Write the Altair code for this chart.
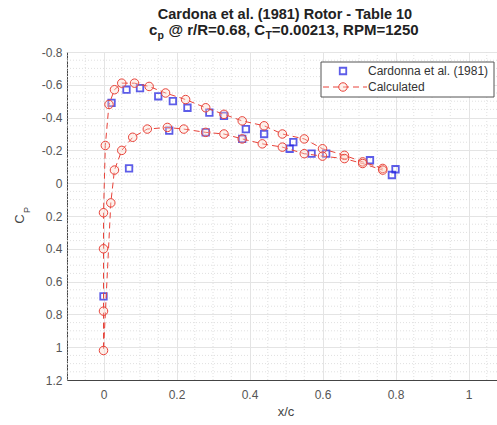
import altair as alt
import pandas as pd

# ---- data ----
exp_x = [0.0, 0.022, 0.063, 0.10, 0.15, 0.19, 0.23, 0.29, 0.33, 0.39, 0.44, 0.52, 0.57,
         0.73, 0.80, 0.79, 0.07, 0.18, 0.28, 0.38, 0.51, 0.61]
exp_cp = [0.69, -0.49, -0.57, -0.58, -0.53, -0.50, -0.46, -0.43, -0.41, -0.33, -0.30, -0.25,
          -0.18, -0.14, -0.085, -0.05, -0.09, -0.32, -0.31, -0.27, -0.21, -0.18]

calc_x = [0.765, 0.71, 0.66, 0.60, 0.55, 0.49, 0.44, 0.38, 0.33, 0.28,
          0.225, 0.17, 0.125, 0.085, 0.05, 0.03, 0.015, 0.005, 0.0, 0.0,
          0.0, 0.0, 0.02, 0.03, 0.05, 0.08, 0.12, 0.175, 0.22, 0.28,
          0.33, 0.38, 0.435, 0.49, 0.55, 0.60, 0.66, 0.71, 0.765]
calc_cp = [-0.09, -0.13, -0.17, -0.21, -0.27, -0.30, -0.35, -0.38, -0.42, -0.46,
           -0.51, -0.55, -0.59, -0.61, -0.61, -0.57, -0.48, -0.23, 0.18, 0.40,
           0.78, 1.02, 0.12, -0.08, -0.20, -0.28, -0.33, -0.34, -0.33, -0.31,
           -0.30, -0.27, -0.24, -0.22, -0.18, -0.165, -0.15, -0.12, -0.08]

x_ticks = [0, 0.2, 0.4, 0.6, 0.8, 1.0]
y_ticks = [-0.8, -0.6, -0.4, -0.2, 0, 0.2, 0.4, 0.6, 0.8, 1.0, 1.2]
x_minor = [-0.1, -0.05, 0.05, 0.1, 0.15, 0.25, 0.3, 0.35, 0.45, 0.5, 0.55, 0.65, 0.7, 0.75,
           0.85, 0.9, 0.95, 1.05]
y_minor = [-0.75, -0.7, -0.65, -0.55, -0.5, -0.45, -0.35, -0.3, -0.25, -0.15, -0.1, -0.05,
           0.05, 0.1, 0.15, 0.25, 0.3, 0.35, 0.45, 0.5, 0.55, 0.65, 0.7, 0.75,
           0.85, 0.9, 0.95, 1.05, 1.1, 1.15]

W, H = 430, 328
FONT = "Liberation Sans"

exp_df = pd.DataFrame({"x": exp_x, "cp": exp_cp})
calc_df = pd.DataFrame({"x": calc_x, "cp": calc_cp, "i": list(range(len(calc_x)))})

xs = alt.Scale(domain=[-0.1, 1.078], nice=False, zero=False)
ys = alt.Scale(domain=[-0.8, 1.2], nice=False, zero=False, reverse=True)

lab = "replace(format(datum.value, '.1~f'), '\u2212', '-')"

xaxis = alt.Axis(values=x_ticks, labelExpr=lab, title=None, grid=True, gridColor="#e4e4e4",
                 ticks=False, labelPadding=9, domainColor="#444", labelColor="#555",
                 labelFontSize=12, labelFont=FONT)
yaxis = alt.Axis(values=y_ticks, labelExpr=lab, title=None, grid=True, gridColor="#e4e4e4",
                 ticks=False, labelPadding=5, domainColor="#444", labelColor="#555",
                 labelFontSize=12, labelFont=FONT)


def X(f):
    return alt.X(f, scale=xs, axis=xaxis)


def Y(f):
    return alt.Y(f, scale=ys, axis=yaxis)


xminor = alt.Chart(pd.DataFrame({"v": x_minor})).mark_rule(
    color="#e0e0e0", strokeDash=[1, 2], strokeWidth=1).encode(x=X("v:Q"))
yminor = alt.Chart(pd.DataFrame({"v": y_minor})).mark_rule(
    color="#e0e0e0", strokeDash=[1, 2], strokeWidth=1).encode(y=Y("v:Q"))

exp_pts = alt.Chart(exp_df).mark_point(
    shape="square", size=42, filled=False, color="#1a1ae0", strokeWidth=1.8).encode(
    x=X("x:Q"), y=Y("cp:Q"))

calc_line = alt.Chart(calc_df).mark_line(
    color="#e8433a", strokeDash=[6, 4], strokeWidth=1).encode(
    x=X("x:Q"), y=Y("cp:Q"), order="i:Q")
calc_pts = alt.Chart(calc_df).mark_point(
    shape="circle", size=72, filled=False, color="#e8433a", strokeWidth=1,
    fill="#fbd8c8", fillOpacity=0.35).encode(x=X("x:Q"), y=Y("cp:Q"))

one = pd.DataFrame({"a": [0]})


def txt(s, x, y, size=12, weight="normal", align="left", baseline="alphabetic",
        color="#222", angle=0):
    kw = dict(fontSize=size, fontWeight=weight, align=align, baseline=baseline,
              color=color, font=FONT)
    if angle:
        kw["angle"] = angle
    return alt.Chart(one).mark_text(**kw).encode(
        x=alt.value(x), y=alt.value(y), text=alt.value(s))


# title
t1 = txt("Cardona et al. (1981) Rotor - Table 10", 218, -33, size=14.5, weight="bold",
         align="center")
x0 = 82
t2a = txt("c", x0, -17, size=15, weight="bold")
t2b = txt("p", x0 + 8.6, -13, size=10.5, weight="bold")
t2c = txt("@ r/R=0.68, C", x0 + 19.4, -17, size=15, weight="bold")
t2d = txt("T", x0 + 116.4, -13, size=10.5, weight="bold")
t2e = txt("=0.00213, RPM=1250", x0 + 122.8, -17, size=15, weight="bold")

# axis titles
xt = txt("x/c", 219, H + 36, size=13, align="center", color="#444")
yt1 = txt("C", -43.5, 167, size=13, align="center", color="#444", angle=270)
yt2 = txt("P", -37.5, 158, size=9, align="center", color="#444", angle=270)

# legend
leg_box = alt.Chart(one).mark_rect(fill="white", stroke="#555", strokeWidth=1).encode(
    x=alt.value(254), x2=alt.value(427), y=alt.value(10), y2=alt.value(45))
leg_sq = alt.Chart(one).mark_point(shape="square", size=42, filled=False, color="#1a1ae0",
                                   strokeWidth=1.8).encode(x=alt.value(276), y=alt.value(19))
leg_line = alt.Chart(one).mark_rule(color="#e8433a", strokeDash=[6, 4], strokeWidth=1).encode(
    x=alt.value(256), x2=alt.value(300), y=alt.value(35))
leg_circ = alt.Chart(one).mark_point(shape="circle", size=72, filled=False, color="#e8433a",
                                     strokeWidth=1, fill="#fbd8c8", fillOpacity=0.35).encode(
    x=alt.value(276), y=alt.value(35))
leg_t1 = txt("Cardonna et al. (1981)", 301, 19, size=12, baseline="middle", color="#333")
leg_t2 = txt("Calculated", 301, 35, size=12, baseline="middle", color="#333")

chart = alt.layer(
    xminor, yminor, exp_pts, calc_line, calc_pts,
    t1, t2a, t2b, t2c, t2d, t2e, xt, yt1, yt2,
    leg_box, leg_sq, leg_line, leg_circ, leg_t1, leg_t2,
).properties(
    width=W, height=H,
    autosize=alt.AutoSizeParams(type="none"),
    padding={"left": 67, "top": 52, "right": 0, "bottom": 45},
    background="white",
).configure_view(stroke=None)

chart.save("out.html", embed_options={"renderer": "svg", "actions": False})
